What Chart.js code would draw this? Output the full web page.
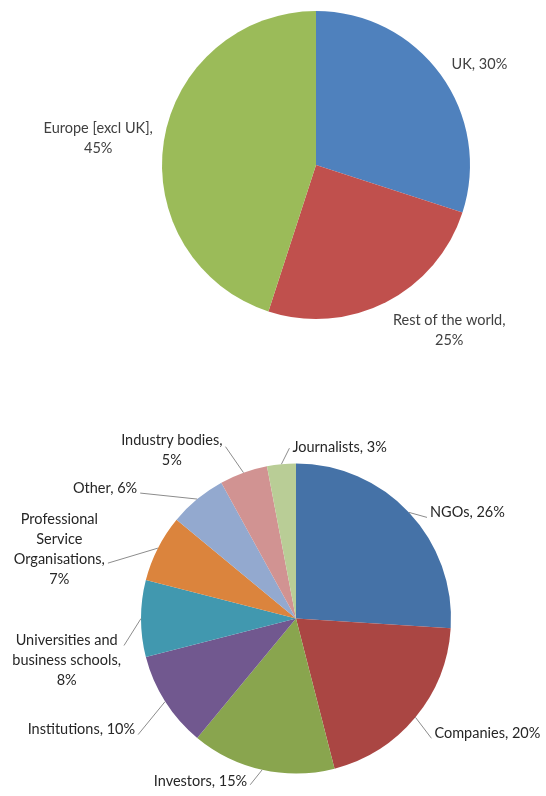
<!DOCTYPE html>
<html>
<head>
<meta charset="utf-8">
<script src="https://cdn.jsdelivr.net/npm/chart.js@4"></script>
<style>
  html, body { margin: 0; padding: 0; background: #fff; }
  body { width: 546px; height: 796px; position: relative; overflow: hidden; }
  canvas { position: absolute; left: 0; }
  #regionChart { top: 0; }
  #audienceChart { top: 400px; }
</style>
</head>
<body>
<canvas id="regionChart" width="546" height="400"></canvas>
<canvas id="audienceChart" width="546" height="396"></canvas>
<script>
// top pie: where readers are
const regionCategories = ["UK", "Rest of the world", "Europe [excl UK]"];
const regionValues = [30, 25, 45];
const regionColors = ["#4F81BD", "#C0504D", "#9BBB59"];

// bottom pie: who they are
const audienceCategories = ["NGOs", "Companies", "Investors", "Institutions",
  "Universities and business schools", "Professional Service Organisations",
  "Other", "Industry bodies", "Journalists"];
const audienceValues = [26, 20, 15, 10, 8, 7, 6, 5, 3];
const audienceColors = ["#4572A7", "#AA4643", "#89A54E", "#71588F", "#4198AF",
  "#DB843D", "#93A9CF", "#D19392", "#B9CD96"];

// label placement, relative to the point on the rim at each slice's mid angle
// ly = where the leader meets the label, from the label's middle
const regionLabelLayout = [
  { dx: 11, dy: -10, align: "left", wrap: 200 },
  { dx: 7, dy: 28, align: "left", wrap: 125 },
  { dx: -11, dy: -3, align: "right", wrap: 125 }
];
const audienceLabelLayout = [
  { dx: 21, dy: 0, align: "left", wrap: 200, ly: 5 },
  { dx: 19, dy: 16, align: "left", wrap: 200, ly: 5 },
  { dx: -15, dy: 12, align: "right", wrap: 200, ly: 3 },
  { dx: -30, dy: 28, align: "right", wrap: 200, ly: 5 },
  { dx: -20, dy: 42, align: "right", wrap: 122, ly: -15 },
  { dx: -53, dy: 1, align: "right", wrap: 104, ly: 14 },
  { dx: -60, dy: -11, align: "right", wrap: 200, ly: 5 },
  { dx: -21, dy: -22, align: "right", wrap: 116, ly: -4 },
  { dx: 11, dy: -17, align: "left", wrap: 200, ly: 1 }
];

const FONT = "14.5px Lato";
const LINE_H = 20;

function wrapText(ctx, text, maxWidth) {
  const words = text.split(" ");
  const lines = [];
  let cur = "";
  words.forEach(w => {
    const test = cur ? cur + " " + w : w;
    if (cur && ctx.measureText(test).width > maxWidth) {
      lines.push(cur);
      cur = w;
    } else {
      cur = test;
    }
  });
  if (cur) lines.push(cur);
  return lines;
}

const sliceLabels = {
  id: "sliceLabels",
  afterDatasetsDraw(chart, args, opts) {
    const ctx = chart.ctx;
    const meta = chart.getDatasetMeta(0);
    const values = chart.data.datasets[0].data;
    ctx.save();
    ctx.font = FONT;
    ctx.fillStyle = opts.color;
    ctx.textBaseline = "middle";
    ctx.textAlign = "center";
    meta.data.forEach((arc, i) => {
      const p = arc.getProps(["x", "y", "startAngle", "endAngle", "outerRadius"], true);
      const mid = (p.startAngle + p.endAngle) / 2;
      const ex = p.x + Math.cos(mid) * p.outerRadius;
      const ey = p.y + Math.sin(mid) * p.outerRadius;
      const lay = opts.layout[i];
      const text = chart.data.labels[i] + ", " + values[i] + "%";
      const lines = wrapText(ctx, text, lay.wrap);
      const w = Math.max(...lines.map(l => ctx.measureText(l).width));
      const h = lines.length * LINE_H;
      const ax = ex + lay.dx;
      const ay = ey + lay.dy;
      const left = lay.align === "left" ? ax : ax - w;
      const top = ay - h / 2;
      const cx = left + w / 2;

      if (opts.leaders) {
        const bx = lay.align === "left" ? left - 3 : left + w + 3;
        const by = ay + (lay.ly || 0);
        ctx.beginPath();
        ctx.strokeStyle = "#8c8c8c";
        ctx.lineWidth = 1;
        ctx.moveTo(ex, ey);
        ctx.lineTo(bx, by);
        ctx.stroke();
      }
      lines.forEach((l, k) => {
        ctx.fillText(l, cx, top + LINE_H / 2 + k * LINE_H);
      });
    });
    ctx.restore();
  }
};

function makePie(id, labels, values, colors, padding, layout, leaders, color) {
  return new Chart(document.getElementById(id), {
    type: "pie",
    data: {
      labels: labels,
      datasets: [{
        data: values,
        backgroundColor: colors,
        borderWidth: 0
      }]
    },
    options: {
      responsive: false,
      animation: false,
      layout: { padding: padding },
      plugins: {
        legend: { display: false },
        tooltip: { enabled: false },
        sliceLabels: { layout: layout, leaders: leaders, color: color }
      }
    },
    plugins: [sliceLabels]
  });
}

makePie("regionChart", regionCategories, regionValues, regionColors,
  { left: 162, right: 76, top: 11, bottom: 81 }, regionLabelLayout, false, "#404040");
makePie("audienceChart", audienceCategories, audienceValues, audienceColors,
  { left: 141, right: 95, top: 63.5, bottom: 22.5 }, audienceLabelLayout, true, "#262626");
</script>
</body>
</html>
